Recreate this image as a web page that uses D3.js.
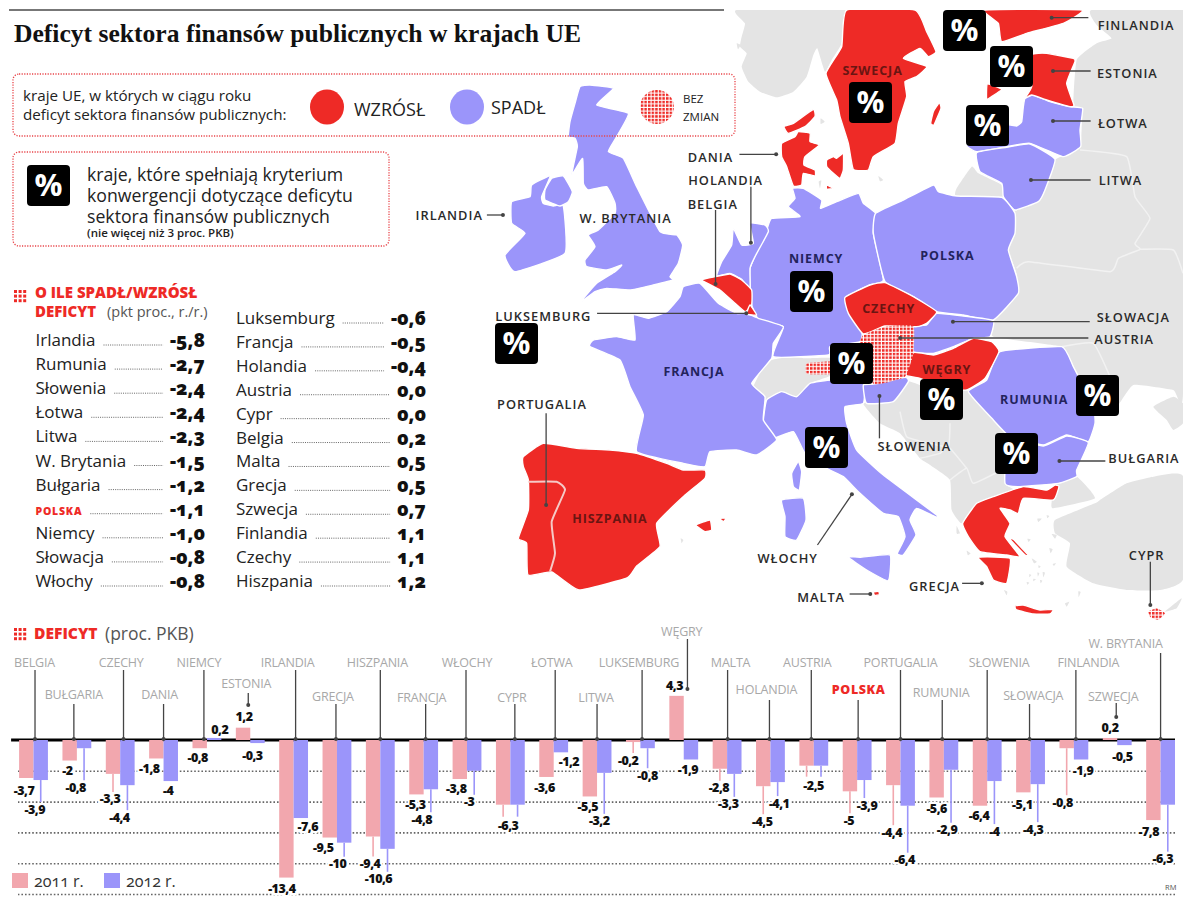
<!DOCTYPE html>
<html lang="pl">
<head>
<meta charset="utf-8">
<title>Deficyt sektora finansów publicznych w krajach UE</title>
<script src="https://cdn.jsdelivr.net/npm/d3@7"></script>
<style>
    html, body { margin: 0; padding: 0; background: #fff; }
    svg { display: block; font-family: "Open Sans", sans-serif; }
    .leader { stroke: #444; stroke-width: 1.3; fill: none; }
    .mapname { font-size: 12.8px; font-weight: 600; letter-spacing: 1px; fill: #2a2a2a; }
    .region { font-size: 12.5px; font-weight: 700; letter-spacing: 0.9px; fill: #23235c; }
    .onred { font-size: 12.5px; font-weight: 700; letter-spacing: 0.9px; fill: #6a1512; }
    .grid line { stroke: #666; stroke-width: 1.6; stroke-dasharray: 1.6 2; }
    .value { font-size: 12.5px; font-weight: 800; letter-spacing: -0.5px; fill: #111; text-anchor: middle;
             stroke: #fff; stroke-width: 4px; paint-order: stroke; dominant-baseline: central; }
    .country { font-size: 12.5px; fill: #a8a8a8; text-anchor: middle; dominant-baseline: central; letter-spacing: -0.2px; }
    .listname { font-size: 17px; fill: #222; }
    .listvalue { font-size: 19px; font-weight: 800; fill: #111; text-anchor: end; font-variant-numeric: oldstyle-nums; }
</style>
</head>
<body>
<script>
const svgWidth = 1200;
const svgHeight = 908;

const RED = "#ee2a26";
const LAVENDER = "#9b95fa";
const GREY = "#e4e4e4";
const PINK = "#f2a7ae";

// bar chart data
const countries = ["BELGIA", "BUŁGARIA", "CZECHY", "DANIA", "NIEMCY", "ESTONIA", "IRLANDIA", "GRECJA", "HISZPANIA",
    "FRANCJA", "WŁOCHY", "CYPR", "ŁOTWA", "LITWA", "LUKSEMBURG", "WĘGRY", "MALTA", "HOLANDIA", "AUSTRIA", "POLSKA",
    "PORTUGALIA", "RUMUNIA", "SŁOWENIA", "SŁOWACJA", "FINLANDIA", "SZWECJA", "W. BRYTANIA"];
const deficit2011 = [-3.7, -2, -3.3, -1.8, -0.8, 1.2, -13.4, -9.5, -9.4, -5.3, -3.8, -6.3, -3.6, -5.5, -0.2, 4.3,
    -2.8, -4.5, -2.5, -5, -4.4, -5.6, -6.4, -5.1, -0.8, 0.2, -7.8];
const deficit2012 = [-3.9, -0.8, -4.4, -4, 0.2, -0.3, -7.6, -10, -10.6, -4.8, -3, -6.3, -1.2, -3.2, -0.8, -1.9,
    -3.3, -4.1, -2.5, -3.9, -6.4, -2.9, -4, -4.3, -1.9, -0.5, -6.3];
const gridTicks = [-3, -6, -9, -12, -15];

// change table data
const listNames1 = ["Irlandia", "Rumunia", "Słowenia", "Łotwa", "Litwa", "W. Brytania", "Bułgaria", "POLSKA", "Niemcy", "Słowacja", "Włochy"];
const listValues1 = [-5.8, -2.7, -2.4, -2.4, -2.3, -1.5, -1.2, -1.1, -1.0, -0.8, -0.8];
const listNames2 = ["Luksemburg", "Francja", "Holandia", "Austria", "Cypr", "Belgia", "Malta", "Grecja", "Szwecja", "Finlandia", "Czechy", "Hiszpania"];
const listValues2 = [-0.6, -0.5, -0.4, 0.0, 0.0, 0.2, 0.5, 0.5, 0.7, 1.1, 1.1, 1.2];

// hand placed annotations of the bar chart, in px
const nameDx = [1, -3, 1, -4, -8, -4, -6, -4, -3, -2, 0, 1.5, -2, -1, -1.5, -2, 3.5, -4, -6.5, 1.5, 0, -2.7, 12, 2.7, 14.5, -4, -35];
const nameY = [662, 694, 662, 694, 662, 683, 662, 696, 662, 697, 662, 697, 662, 697, 662, 631, 662, 689, 662, 689, 662, 692, 662, 695, 662, 696, 643];
const stemDx = [1.5, -3, 3.3, 0, -3, -2, 2, -1, 0, 2, -1, 4.5, 1.5, 0, 1.7, 3.7, 0.5, -1, -2.5, 1, 0, -1.6, 0, -1, 2, -1, 0];
const stemTop = [670, 704, 670, 704, 670, 693, 670, 704, 670, 704, 670, 704, 670, 704, 670, 639, 670, 700, 670, 700, 670, 700, 670, 704, 670, 703, 653];
const stemEnd = {ESTONIA: 706, "WĘGRY": 690, SZWECJA: 718};
const labelDx2011 = [-2.3, -2.3, -3, -7, -2, 1, -4.6, -6.5, -3, -1, -3.5, 5, -2, -2, -5, -2, -1, -1, 7, -1, -1.5, 0, -1, -1, -4, 0, -4.6];
const labelDy2011 = [13, 10, 25, 10, 9, -11, 11, 10, 27, 10, 9, 21, 11, 10, 18, -10, 19, 35, 20, 29, 47, 11, 10, 12, 54, -10, 11];
const labelDx2012 = [-6, -8.4, -8, -2.7, 5.7, -5, 7, -6.5, -9, -9, -5, 0, 8, -5, 0, -3, -6, 1.5, 0, 2.7, -3, -4, 0, -4.6, 2, -2, -5];
const labelDy2012 = [29, 39, 32, 9, -8, 12, 8, 21, 30, 30, 31, 21, 9, 48, 27, 10, 30, 21, 20, 25, 54, 60, 50, 45, 11, 11, 54];
const sharedLabel2012 = ["CYPR", "AUSTRIA"]; // one number is printed for both years here

// map outlines, traced at 3x from five crops of the picture
const cropNorthWest = (pts) => pts.map(p => [500 + p[0] / 3, 80 + p[1] / 3]);
const cropNorth = (pts) => pts.map(p => [730 + p[0] / 3, 10 + p[1] / 3]);
const cropCentre = (pts) => pts.map(p => [700 + p[0] / 3, 190 + p[1] / 3]);
const cropWest = (pts) => pts.map(p => [510 + p[0] / 3, 280 + p[1] / 3]);
const cropSouth = (pts) => pts.map(p => [760 + p[0] / 3, 420 + p[1] / 3]);

const greyLand = [
    cropNorth([[20, 0], [345, 0], [335, 100], [305, 150], [285, 185], [262, 115], [250, 135], [230, 200], [190, 245], [140, 262], [90, 245], [55, 215], [35, 170], [50, 130], [30, 110], [35, 80], [45, 40]]),
    cropNorth([[20, 100], [32, 105], [24, 118]]),
    cropNorth([[272, 325], [284, 335], [272, 342]]),
    cropNorth([[445, 498], [460, 510], [450, 514]]),
    cropNorth([[266, 515], [274, 512], [270, 535]]),
    cropNorth([[680, 535], [725, 470], [745, 490], [815, 525], [818, 560], [680, 560]]),
    cropCentre([[1175, -540], [1190, -495], [1235, -455], [1190, -440], [1130, -390], [1120, -250], [1145, -240], [1140, -130], [1065, -90], [1035, 0], [1015, 35], [945, 60], [925, 180], [950, 260], [880, 390], [880, 440], [1085, 470], [1120, 530], [1180, 650], [1250, 650], [1300, 585], [1420, 600], [1449, 610], [1449, -540]]),
    cropCentre([[1360, 650], [1420, 620], [1449, 640], [1449, 700], [1420, 720], [1400, 690]]),
    cropCentre([[160, 590], [200, 515], [270, 500], [320, 505], [395, 505], [395, 555], [330, 580], [290, 620], [245, 605], [200, 630], [165, 620]]),
    cropCentre([[625, 575], [700, 600], [800, 600], [880, 690], [930, 745], [915, 880], [940, 900], [830, 940], [785, 1000], [755, 960], [750, 870], [690, 825], [660, 805], [600, 730], [540, 700], [490, 640], [580, 635]]),
    cropSouth([[885, 195], [950, 170], [1005, 235], [880, 265], [875, 245]]),
    cropSouth([[885, 300], [1005, 250], [1020, 240], [1100, 190], [1180, 170], [1270, 170], [1270, 475], [1200, 510], [1100, 510], [1000, 490], [920, 440], [930, 370], [885, 340]]),
    cropSouth([[1215, 575], [1265, 535], [1250, 565]]),
    cropSouth([[590, 318], [600, 340], [590, 340]]), cropSouth([[620, 392], [632, 400], [624, 406]]),
    cropSouth([[832, 296], [845, 296], [835, 306]]), cropSouth([[860, 285], [868, 288], [862, 295]]),
    cropSouth([[875, 342], [890, 345], [885, 356]]), cropSouth([[802, 356], [812, 358], [806, 366]]),
    cropSouth([[868, 384], [878, 388], [872, 400]]), cropSouth([[815, 415], [830, 425], [822, 430]]),
    cropSouth([[835, 436], [842, 440], [836, 444]]), cropSouth([[878, 432], [888, 430], [882, 438]]),
    cropSouth([[808, 462], [814, 465], [808, 472]]), cropSouth([[832, 458], [838, 460], [834, 470]]),
    cropSouth([[848, 456], [855, 458], [850, 472]]), cropSouth([[800, 486], [808, 488], [802, 494]]),
    cropSouth([[820, 476], [828, 478], [820, 484]]), cropSouth([[840, 480], [847, 482], [842, 490]]),
    cropSouth([[732, 510], [742, 515], [740, 526]]), cropSouth([[915, 550], [928, 545], [920, 560]]),
    cropSouth([[955, 514], [962, 516], [956, 532]]),
    cropWest([[512, 775], [520, 780], [515, 790]])
];
const greyBorders = [
    cropCentre([[1140, -120], [1280, -100], [1305, 20], [1350, 85], [1305, 160], [1320, 178], [1255, 205], [1230, 245], [985, 215], [950, 235]]),
    cropCentre([[1320, 178], [1420, 180], [1449, 250]]),
    cropCentre([[1085, 470], [1180, 460], [1230, 560]]),
    cropCentre([[750, 870], [800, 835], [820, 880], [905, 840]]),
    cropCentre([[660, 805], [720, 790], [745, 770], [800, 835]]),
    cropCentre([[600, 665], [620, 740], [690, 760], [745, 770], [750, 700]])
];
const raisedLand = [
    cropNorth([[765, 0], [1055, 0], [1000, 40], [890, 70], [815, 95], [805, 40]]), // Finlandia
    cropNorth([[350, 0], [555, 0], [590, 65], [618, 125], [595, 140], [570, 115], [520, 145], [590, 170], [560, 200], [525, 215], [530, 260], [505, 340], [495, 400], [430, 440], [415, 480], [370, 478], [355, 400], [330, 320], [320, 270], [288, 190], [335, 110]]), // Szwecja
    cropNorth([[628, 278], [633, 295], [612, 345], [602, 340], [610, 305]]),
    cropNorth([[905, 135], [950, 130], [1030, 145], [1035, 155], [1010, 220], [1032, 285], [1020, 290], [950, 270], [905, 255], [885, 265], [905, 230]]), // Estonia
    cropNorth([[772, 222], [815, 238], [785, 260], [770, 268]]),
    cropNorth([[155, 400], [195, 380], [205, 365], [240, 370], [240, 395], [268, 405], [225, 440], [222, 465], [255, 480], [255, 498], [220, 490], [215, 525], [190, 528], [170, 470], [155, 440]]), // Dania
    cropNorth([[162, 350], [190, 340], [250, 298], [255, 320], [225, 350], [175, 370]]),
    cropNorth([[290, 450], [310, 440], [320, 445], [340, 430], [340, 480], [330, 505], [310, 490], [290, 470]]),
    cropNorth([[290, 525], [310, 535], [290, 538]]),
    cropCentre([[435, 322], [510, 285], [555, 278], [640, 320], [710, 365], [680, 400], [650, 410], [555, 408], [490, 432], [445, 370]]), // Czechy
    cropCentre([[5, 270], [45, 260], [90, 252], [125, 270], [155, 300], [155, 345], [135, 365], [105, 340], [60, 300]]), // Belgia
    cropCentre([[150, 345], [170, 375], [140, 372]]), // Luksemburg
    cropCentre([[640, 488], [700, 495], [760, 475], [820, 445], [875, 455], [897, 485], [855, 565], [800, 600], [720, 590], [660, 565], [618, 555]]), // Wegry
    cropSouth([[650, 250], [700, 230], [790, 200], [860, 210], [885, 195], [897, 200], [880, 240], [790, 235], [775, 280], [750, 270], [720, 265], [750, 310], [735, 350], [780, 410], [740, 405], [660, 395], [625, 350], [608, 310]]), // Grecja
    cropSouth([[655, 412], [750, 415], [740, 490], [700, 480], [680, 440]]),
    cropSouth([[750, 358], [760, 358], [805, 405], [795, 405]]),
    cropSouth([[765, 558], [790, 555], [840, 570], [880, 568], [870, 582], [820, 582], [770, 570]]),
    cropWest([[40, 530], [100, 490], [200, 505], [300, 510], [380, 520], [470, 550], [520, 570], [585, 570], [585, 595], [520, 650], [440, 730], [450, 800], [380, 858], [351, 894], [207, 930], [125, 876], [54, 885], [50, 790], [25, 775], [55, 690], [55, 600], [40, 560]]), // Hiszpania i Portugalia
    cropWest([[558, 735], [600, 720], [605, 750], [585, 755]]),
    cropWest([[628, 715], [648, 715], [640, 725]]),
    cropSouth([[340, 516], [356, 514], [358, 524], [344, 526]]) // Malta
];
const fallenLand = [
    cropNorthWest([[240, 20], [270, 15], [340, 25], [290, 75], [385, 100], [350, 170], [325, 215], [370, 235], [410, 320], [480, 455], [530, 465], [548, 495], [535, 550], [510, 590], [520, 600], [460, 615], [390, 630], [320, 625], [285, 635], [240, 668], [290, 610], [345, 575], [365, 555], [320, 570], [260, 560], [255, 540], [285, 500], [265, 465], [295, 450], [345, 400], [345, 370], [320, 320], [265, 330], [250, 310], [248, 235], [215, 285], [232, 200], [225, 175], [205, 170], [210, 125], [225, 70]]), // W. Brytania
    cropNorthWest([[150, 288], [125, 350], [130, 370], [160, 378], [190, 378], [195, 520], [45, 575], [15, 525], [75, 460], [35, 430], [35, 365], [90, 350], [95, 315]]), // Irlandia
    cropNorthWest([[155, 295], [190, 288], [217, 335], [205, 365], [180, 378], [135, 360], [135, 330]]),
    cropNorth([[885, 265], [910, 255], [960, 275], [1020, 290], [1058, 295], [1050, 360], [1052, 410], [1000, 440], [900, 400], [830, 410], [740, 425], [710, 405], [830, 385], [835, 345], [860, 348], [875, 335], [880, 290]]), // Lotwa
    cropNorth([[740, 428], [830, 412], [900, 402], [975, 448], [945, 540], [925, 575], [855, 600], [820, 560], [815, 520], [750, 485]]), // Litwa
    cropCentre([[278, -5], [310, -5], [365, 30], [362, 55], [410, 35], [475, 10], [490, 40], [527, 70], [520, 130], [550, 270], [510, 285], [435, 325], [485, 420], [480, 455], [390, 470], [385, 495], [220, 500], [250, 410], [180, 395], [155, 345], [150, 235], [200, 120], [215, 85], [300, 80], [265, 50], [285, 25]]), // Niemcy
    cropCentre([[527, 70], [610, 30], [700, -15], [715, 5], [770, 18], [905, 22], [945, 70], [945, 130], [925, 180], [950, 260], [955, 310], [880, 390], [790, 375], [710, 365], [640, 320], [555, 275], [520, 130]]), // Polska
    cropCentre([[710, 370], [790, 378], [880, 392], [870, 440], [820, 445], [760, 470], [700, 490], [640, 485], [640, 410], [680, 405]]), // Slowacja
    cropCentre([[900, 485], [1085, 470], [1120, 530], [1180, 650], [1185, 700], [1165, 755], [1100, 735], [1030, 765], [930, 740], [880, 690], [805, 605], [860, 570]]), // Rumunia
    cropCentre([[925, 745], [1030, 768], [1100, 738], [1165, 758], [1130, 840], [1130, 860], [1075, 880], [960, 890], [915, 880]]), // Bulgaria
    cropCentre([[50, 258], [65, 215], [95, 165], [100, 115], [125, 165], [160, 160], [150, 100], [195, 105], [205, 125], [165, 200], [150, 235], [150, 300], [125, 268], [90, 250]]), // Holandia
    cropCentre([[200, 630], [245, 605], [290, 620], [330, 580], [395, 570], [490, 580], [490, 640], [435, 650], [440, 700], [470, 780], [550, 855], [710, 975], [705, 980], [650, 955], [630, 990], [648, 1035], [610, 1095], [592, 1090], [615, 1040], [595, 980], [550, 970], [480, 910], [430, 860], [380, 835], [315, 790], [280, 725], [220, 745], [190, 700]]), // Wlochy
    cropSouth([[262, 410], [300, 412], [390, 405], [385, 482], [320, 450]]),
    cropWest([[865, 545], [875, 575], [868, 630], [850, 620], [845, 580]]),
    cropWest([[815, 660], [880, 655], [888, 720], [860, 780], [825, 770], [825, 710]]),
    cropCentre([[490, 585], [520, 582], [615, 562], [625, 575], [580, 635], [500, 640]]), // Slowenia
    cropWest([[520, 20], [570, 10], [625, 70], [680, 100], [710, 100], [745, 115], [820, 140], [790, 190], [785, 235], [725, 310], [765, 350], [760, 420], [800, 480], [740, 525], [680, 510], [600, 515], [585, 560], [520, 550], [380, 515], [400, 405], [360, 320], [330, 240], [240, 200], [250, 180], [320, 170], [375, 180], [370, 105], [415, 115], [470, 95], [510, 50]]) // Francja
];
const unchangedLand = [
    cropCentre([[490, 435], [555, 410], [640, 408], [640, 490], [615, 560], [520, 582], [515, 470], [480, 458]]), // Austria
    cropCentre([[320, 520], [395, 515], [395, 552], [320, 552]]),
    cropSouth([[1165, 575], [1190, 565], [1215, 580], [1195, 600], [1172, 592]]) // Cypr
];
const portugalBorder = cropWest([[55, 605], [140, 605], [165, 630], [125, 725], [135, 820], [120, 875]]);

// label positions on a sheet of 2178 x 3 units per px
const mapLabels = [
    ["FINLANDIA", 1429, 75, "mapname"], ["ESTONIA", 1410, 220, "mapname"], ["ŁOTWA", 1400, 370, "mapname"], ["LITWA", 1395, 540, "mapname"],
    ["DANIA", 502, 470, "mapname"], ["HOLANDIA", 535, 540, "mapname"], ["BELGIA", 507, 612, "mapname"], ["IRLANDIA", -67, 645, "mapname"],
    ["W. BRYTANIA", 317, 655, "mapname"], ["LUKSEMBURG", 138, 947, "mapname"], ["SŁOWACJA", 1423, 952, "mapname"], ["AUSTRIA", 1403, 1016, "mapname"],
    ["PORTUGALIA", 135, 1211, "mapname"], ["SŁOWENIA", 946, 1338, "mapname"], ["BUŁGARIA", 1446, 1375, "mapname"], ["WŁOCHY", 670, 1675, "mapname"],
    ["GRECJA", 990, 1758, "mapname"], ["MALTA", 743, 1790, "mapname"], ["CYPR", 1452, 1665, "mapname"],
    ["FRANCJA", 466, 1113, "region"], ["NIEMCY", 732, 775, "region"], ["POLSKA", 1018, 767, "region"], ["RUMUNIA", 1207, 1197, "region"],
    ["CZECHY", 890, 925, "onred"], ["WĘGRY", 1017, 1107, "onred"], ["HISZPANIA", 283, 1555, "onred"], ["SZWECJA", 855, 210, "onred"]
];
const mapLeaders = [
    [[1245, 53], [1325, 53]], [[1248, 213], [1330, 213]], [[1248, 363], [1330, 363]], [[1200, 540], [1330, 540]],
    [[645, 463], [565, 463]], [[590, 728], [590, 560]], [[513, 852], [513, 630]], [[50, 645], [15, 645]],
    [[580, 940], [255, 940]], [[1030, 965], [1328, 965]], [[915, 1014], [1325, 1014]], [[144, 1515], [144, 1240]],
    [[870, 1188], [870, 1315]], [[1262, 1383], [1362, 1383]], [[810, 1483], [735, 1635]], [[1093, 1750], [1050, 1750]],
    [[850, 1782], [805, 1782]], [[1460, 1815], [1460, 1685]]
];
const badgePositions = [[943, 10], [990, 46], [966, 105], [849, 82], [790, 271], [495, 323], [830, 343], [920, 379], [1076, 375], [995, 433], [805, 427], [27, 165]];

const svg = d3.select("body").append("svg").attr("width", svgWidth).attr("height", svgHeight);

const defs = svg.append("defs");
const dots = defs.append("pattern").attr("id", "dots").attr("width", 3.6).attr("height", 3.6).attr("patternUnits", "userSpaceOnUse");
dots.append("rect").attr("width", 3.6).attr("height", 3.6).attr("fill", "#fff");
dots.append("rect").attr("width", 2.5).attr("height", 2.5).attr("fill", RED);
defs.append("clipPath").attr("id", "mapClip").append("rect").attr("x", 480).attr("y", 10).attr("width", 703).attr("height", 620);

/***
 * MAP
 */
const mapX = d3.scaleLinear().domain([0, 2178]).range([480, 1480]);
const mapY = d3.scaleLinear().domain([0, 3]).range([0, 1]);
const outline = d3.line().curve(d3.curveCardinalClosed.tension(0.6));
const borderLine = d3.line().curve(d3.curveCardinal.tension(0.6));
const sheetLine = d3.line().x(p => mapX(p[0])).y(p => mapY(p[1]));

const map = svg.append("g").attr("clip-path", "url(#mapClip)");

function drawLand(shapes, fill, stroke) {
    map.append("g").selectAll("path").data(shapes).join("path")
        .attr("d", outline)
        .attr("fill", fill)
        .attr("stroke", stroke)
        .attr("stroke-width", 1.4)
        .attr("stroke-linejoin", "round");
}

drawLand(greyLand, GREY, "none");
map.append("g").selectAll("path").data(greyBorders).join("path")
    .attr("d", borderLine).attr("fill", "none").attr("stroke", "#f2f2f2").attr("stroke-width", 1.5);
drawLand(fallenLand, LAVENDER, "#fff");
drawLand(raisedLand, RED, "#fff");
drawLand(unchangedLand, "url(#dots)", "none");
map.append("path").attr("d", borderLine(portugalBorder)).attr("fill", "none").attr("stroke", "#f6c9c6").attr("stroke-width", 2);

const leaders = svg.append("g");
leaders.selectAll("path").data(mapLeaders).join("path").attr("class", "leader").attr("d", sheetLine);
leaders.selectAll("circle").data(mapLeaders).join("circle")
    .attr("cx", d => mapX(d[0][0])).attr("cy", d => mapY(d[0][1])).attr("r", 2).attr("fill", "#444");

svg.append("g").selectAll("text").data(mapLabels).join("text")
    .attr("class", d => d[3])
    .attr("text-anchor", "middle")
    .attr("dominant-baseline", "central")
    .attr("x", d => mapX(d[1]))
    .attr("y", d => mapY(d[2]))
    .text(d => d[0]);

/***
 * HEADER AND LEGEND
 */
svg.append("line").attr("x1", 9).attr("x2", 724).attr("y1", 10).attr("y2", 10).attr("stroke", "#777").attr("stroke-width", 2);
svg.append("text").attr("x", 14).attr("y", 42)
    .attr("font-family", "'Liberation Serif', serif").attr("font-weight", 700).attr("font-size", 26)
    .attr("textLength", 567).attr("lengthAdjust", "spacingAndGlyphs").attr("fill", "#111")
    .text("Deficyt sektora finansów publicznych w krajach UE");

function dottedBox(x, y, width, height) {
    svg.append("rect").attr("x", x).attr("y", y).attr("width", width).attr("height", height).attr("rx", 6)
        .attr("fill", "none").attr("stroke", "#e8454a").attr("stroke-width", 1.3).attr("stroke-dasharray", "1.2 1.4");
}

function plainText(text, x, y, size, fill, weight) {
    return svg.append("text").attr("x", x).attr("y", y).attr("font-size", size)
        .attr("fill", fill || "#222").attr("font-weight", weight || 400).text(text);
}

dottedBox(13, 74, 722, 62);
dottedBox(13, 152, 376, 94);
plainText("kraje UE, w których w ciągu roku", 23, 101, 15.2);
plainText("deficyt sektora finansów publicznych:", 23, 120, 15.2);
svg.append("ellipse").attr("cx", 327).attr("cy", 107).attr("rx", 17).attr("ry", 17.5).attr("fill", RED);
plainText("WZRÓSŁ", 354, 116, 18);
svg.append("ellipse").attr("cx", 467).attr("cy", 107).attr("rx", 17).attr("ry", 17.5).attr("fill", LAVENDER);
plainText("SPADŁ", 491, 114, 18);
svg.append("circle").attr("cx", 657).attr("cy", 107).attr("r", 17).attr("fill", "url(#dots)");
plainText("BEZ", 683, 103, 11.5);
plainText("ZMIAN", 683, 121, 11.5);
plainText("kraje, które spełniają kryterium", 87, 181, 17.7);
plainText("konwergencji dotyczące deficytu", 87, 202, 17.7);
plainText("sektora finansów publicznych", 87, 223, 17.7);
plainText("(nie więcej niż 3 proc. PKB)", 87, 237, 11.5, "#222", 600);

const badges = svg.append("g").selectAll("g").data(badgePositions).join("g")
    .attr("transform", d => `translate(${d[0]},${d[1]})`);
badges.append("rect").attr("width", 43).attr("height", 41).attr("rx", 4).attr("fill", "#000");
badges.append("text").attr("x", 21.5).attr("y", 31).attr("text-anchor", "middle")
    .attr("font-size", 31).attr("font-weight", 700).attr("fill", "#fff").text("%");

function squareDots(x, y) {
    svg.append("g").selectAll("rect").data(d3.range(9)).join("rect")
        .attr("x", i => x + (i % 3) * 4.6)
        .attr("y", i => y + Math.floor(i / 3) * 4.6)
        .attr("width", 3).attr("height", 3).attr("fill", RED);
}

/***
 * CHANGE TABLE
 */
squareDots(14, 290);
plainText("O ILE SPADŁ/WZRÓSŁ", 35, 298, 15, RED, 800);
plainText("DEFICYT", 35, 317, 15, RED, 800);
plainText("(pkt proc., r./r.)", 107, 317, 14.5, "#555");

function drawList(names, values, x, right, rowY) {
    const rows = svg.append("g").selectAll("g").data(names).join("g")
        .attr("transform", (d, i) => `translate(0,${rowY(i)})`);
    rows.append("text").attr("class", "listname").attr("x", x).attr("y", 6)
        .style("fill", d => d === "POLSKA" ? RED : null)
        .style("font-size", d => d === "POLSKA" ? "10.5px" : null)
        .style("font-weight", d => d === "POLSKA" ? 800 : null)
        .style("letter-spacing", d => d === "POLSKA" ? "0.8px" : null)
        .text(d => d);
    rows.append("text").attr("class", "listvalue").attr("x", right).attr("y", 7)
        .text((d, i) => values[i].toFixed(1).replace(".", ","));
    rows.each(function () {
        const row = d3.select(this);
        const nameEnd = x + row.select(".listname").node().getComputedTextLength();
        const valueStart = right - row.select(".listvalue").node().getComputedTextLength();
        row.insert("line", "text").attr("x1", nameEnd + 8).attr("x2", valueStart - 7).attr("y1", 5).attr("y2", 5)
            .attr("stroke", "#666").attr("stroke-dasharray", "1 1.2");
    });
}

const rowYLeft = d3.scaleLinear().domain([0, 10]).range([340, 581]);
const rowYRight = d3.scaleLinear().domain([0, 11]).range([318, 581]);
drawList(listNames1, listValues1, 35.5, 205, rowYLeft);
drawList(listNames2, listValues2, 236, 426, rowYRight);

/***
 * BAR CHART
 */
squareDots(14, 628);
plainText("DEFICYT", 34, 639, 15.6, RED, 800);
plainText("(proc. PKB)", 105, 640, 17.5, "#555");

const x = d3.scaleBand().domain(countries).range([19.1, 1175]).paddingInner(0.335);
const xYear = d3.scaleBand().domain(["2011", "2012"]).range([0, x.bandwidth()]);
const y = d3.scaleLinear().domain([0, -15]).range([740, 894]);

const chart = svg.append("g");

// dotted gridlines
chart.append("g").attr("class", "grid").attr("transform", "translate(1175,0)")
    .call(d3.axisLeft(y).tickValues(gridTicks).tickSize(1157).tickFormat(""))
    .call(g => g.select(".domain").remove());

chart.append("line").attr("x1", x.range()[0] - 8).attr("x2", x.range()[1]).attr("y1", y(0)).attr("y2", y(0))
    .attr("stroke", "#000").attr("stroke-width", 3);

function yearRows(year, values, dx, dy) {
    return countries.map((country, i) => ({
        country, year, value: values[i], dx: dx[i], dy: dy[i],
        shared: sharedLabel2012.includes(country),
        cx: x(country) + xYear(year) + xYear.bandwidth() / 2
    }));
}

const series = [
    {color: PINK, rows: yearRows("2011", deficit2011, labelDx2011, labelDy2011)},
    {color: LAVENDER, rows: yearRows("2012", deficit2012, labelDx2012, labelDy2012)}
];

series.forEach(function (s) {
    const g = chart.append("g");

    // thin line from the end of a bar to its number
    g.selectAll("line").data(s.rows.filter(d => d.dy >= 18)).join("line")
        .attr("x1", d => d.cx)
        .attr("x2", d => d.cx)
        .attr("y1", d => y(d.value))
        .attr("y2", d => y(d.value) + d.dy - (d.shared ? 9 : 7))
        .attr("stroke", s.color)
        .attr("stroke-width", 1.6);

    g.selectAll("rect").data(s.rows).join("rect")
        .attr("x", d => d.cx - xYear.bandwidth() / 2)
        .attr("width", xYear.bandwidth())
        .attr("y", d => Math.min(y(d.value), y(0)))
        .attr("height", d => Math.abs(y(d.value) - y(0)))
        .attr("fill", s.color);
});

// numbers go on top of the gridlines and the bars
series.forEach(function (s) {
    chart.append("g").selectAll("text")
        .data(s.rows.filter(d => !(d.year === "2012" && d.shared)))
        .join("text")
        .attr("class", "value")
        .attr("x", d => d.cx + d.dx)
        .attr("y", d => y(d.value) + d.dy)
        .text(d => String(d.value).replace(".", ","));
});

// country names with their stems
const names = chart.append("g").selectAll("g").data(countries).join("g");
names.append("line")
    .attr("class", "leader")
    .attr("x1", (d, i) => x(d) + x.bandwidth() / 2 + stemDx[i])
    .attr("x2", (d, i) => x(d) + x.bandwidth() / 2 + stemDx[i])
    .attr("y1", (d, i) => stemTop[i])
    .attr("y2", d => stemEnd[d] || y(0));
names.append("circle")
    .attr("cx", (d, i) => x(d) + x.bandwidth() / 2 + stemDx[i])
    .attr("cy", d => (stemEnd[d] || y(0)) - 1)
    .attr("r", 2).attr("fill", "#444");
names.append("text")
    .attr("class", "country")
    .attr("x", (d, i) => x(d) + x.bandwidth() / 2 + nameDx[i])
    .attr("y", (d, i) => nameY[i])
    .style("fill", d => d === "POLSKA" ? RED : null)
    .style("font-weight", d => d === "POLSKA" ? 800 : null)
    .style("letter-spacing", d => d === "POLSKA" ? "0.6px" : null)
    .text(d => d);

// legend
svg.append("rect").attr("x", 12).attr("y", 873).attr("width", 16).attr("height", 15).attr("fill", PINK);
plainText("2011 r.", 34, 887, 16, "#333").style("font-variant-numeric", "oldstyle-nums");
svg.append("rect").attr("x", 104).attr("y", 873).attr("width", 16).attr("height", 15).attr("fill", LAVENDER);
plainText("2012 r.", 126, 887, 16, "#333").style("font-variant-numeric", "oldstyle-nums");
plainText("RM", 1165, 890, 7.5, "#555");
</script>
</body>
</html>
